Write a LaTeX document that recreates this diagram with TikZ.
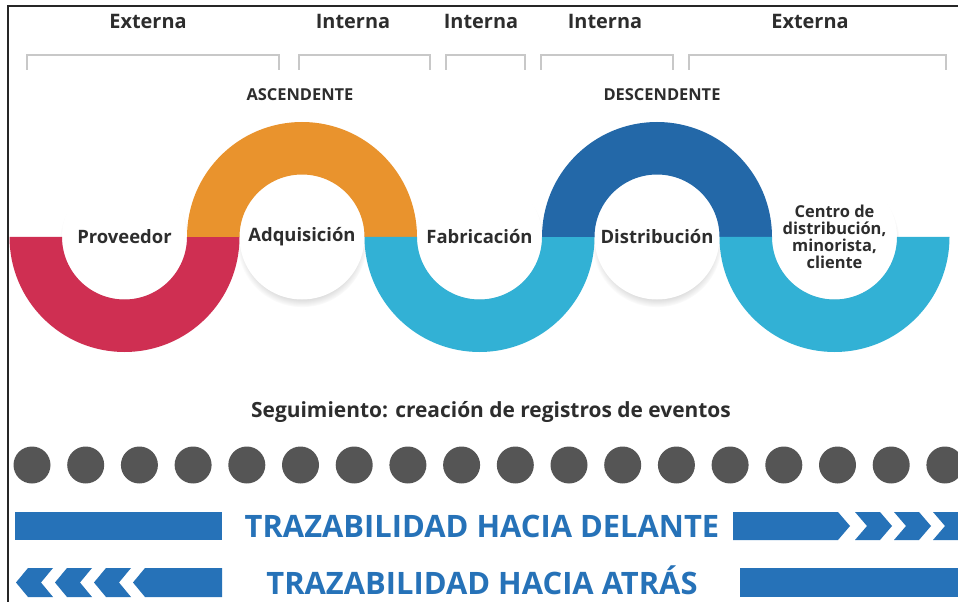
\documentclass[tikz,border=0pt]{standalone}
\usepackage{fontspec}
\setmainfont{Open Sans}
\usetikzlibrary{shadows,fadings}

\definecolor{ringred}{RGB}{207,47,82}
\definecolor{ringorange}{RGB}{233,147,45}
\definecolor{ringcyan}{RGB}{50,177,213}
\definecolor{ringblue}{RGB}{35,104,168}
\definecolor{traceblue}{RGB}{38,114,184}
\definecolor{dotgray}{RGB}{85,85,85}
\definecolor{bracketgray}{RGB}{200,200,200}
\definecolor{inkgray}{RGB}{45,45,45}

\tikzset{
    zone/.style={font=\fontsize{20}{22}\selectfont\bfseries, text=inkgray},
    bracket/.style={draw=bracketgray, line width=1.5},
    flow/.style={font=\fontsize{16.5}{18}\selectfont\bfseries, text=inkgray},
    hub/.style={circle, fill=white, minimum size=125bp, inner sep=0pt,
        font=\fontsize{18.5}{20}\selectfont\bfseries, text=inkgray,
        circular drop shadow={shadow xshift=0bp, shadow yshift=-5bp, shadow scale=1.04, fill=black!45, opacity=0.35}},
    event/.style={fill=dotgray},
    trace/.style={fill=traceblue},
    tracetext/.style={font=\fontsize{31}{33}\selectfont\bfseries, text=traceblue, inner sep=0pt}
}

\begin{document}
\begin{tikzpicture}[x=1bp, y=1bp]
    \clip (0, 0) rectangle (958, -602);
    \fill[white] (0, 0) rectangle (958, -602);

    % frame
    \draw[line width=1.8, black!85] (8, -602) -- (8, -6) -- (958, -6);

    % zones:
    \node[zone] (ext1) at (148, -21) {Externa};
    \node[zone] (int1) at (353, -21) {Interna};
    \node[zone] (int2) at (481, -21) {Interna};
    \node[zone] (int3) at (605, -21) {Interna};
    \node[zone] (ext2) at (810, -21) {Externa};

    \draw[bracket] (27, -70) -- (27, -55) -- (279, -55) -- (279, -70);
    \draw[bracket] (299, -70) -- (299, -55) -- (430, -55) -- (430, -70);
    \draw[bracket] (446, -70) -- (446, -55) -- (525, -55) -- (525, -70);
    \draw[bracket] (541, -70) -- (541, -55) -- (673, -55) -- (673, -70);
    \draw[bracket] (689, -70) -- (689, -55) -- (946, -55) -- (946, -70);

    \node[flow] (up) at (300, -95) {ASCENDENTE};
    \node[flow] (down) at (662, -95) {DESCENDENTE};

    % hubs: centres 124.5 + 177.5 * i, r = 62.5, R = 115
    \node[hub] (prov) at (124.5, -237) {Proveedor};
    \node[hub] (adq) at (302, -237) {Adquisición};
    \node[hub] (fab) at (479.5, -237) {Fabricación};
    \node[hub] (dist) at (657, -237) {Distribución};
    \node[hub, align=center, font=\fontsize{16.5}{17}\selectfont\bfseries] (centro) at (834.5, -237) {Centro de\\distribución,\\minorista,\\cliente};

    % Proveedor (lower half):
    % 124.5 - 115 = 9.5, 124.5 + 115 = 239.5
    \fill[ringred] (9.5, -237) arc[start angle=180, end angle=360, radius=115]
        -- (187, -237) arc[start angle=0, end angle=-180, radius=62.5] -- cycle;

    % Adquisición (upper half):
    % 302 - 115 = 187, 302 + 115 = 417
    \fill[ringorange] (187, -237) arc[start angle=180, end angle=0, radius=115]
        -- (364.5, -237) arc[start angle=0, end angle=180, radius=62.5] -- cycle;

    % Fabricación (lower half):
    % 479.5 - 115 = 364.5, 479.5 + 115 = 594.5
    \fill[ringcyan] (364.5, -237) arc[start angle=180, end angle=360, radius=115]
        -- (542, -237) arc[start angle=0, end angle=-180, radius=62.5] -- cycle;

    % Distribución (upper half):
    % 657 - 115 = 542, 657 + 115 = 772
    \fill[ringblue] (542, -237) arc[start angle=180, end angle=0, radius=115]
        -- (719.5, -237) arc[start angle=0, end angle=180, radius=62.5] -- cycle;

    % Centro (lower half):
    % 834.5 - 115 = 719.5, 834.5 + 115 = 949.5
    \fill[ringcyan] (719.5, -237) arc[start angle=180, end angle=360, radius=115]
        -- (897, -237) arc[start angle=0, end angle=-180, radius=62.5] -- cycle;

    % events: 32 + 53.7 * i
    \node[font=\fontsize{21}{23}\selectfont\bfseries, text=inkgray] (track) at (491, -412) {Seguimiento: creación de registros de eventos};
    \fill[event] (32, -465) circle[radius=18.5];
    \fill[event] (85.7, -465) circle[radius=18.5];
    \fill[event] (139.4, -465) circle[radius=18.5];
    \fill[event] (193.1, -465) circle[radius=18.5];
    \fill[event] (246.8, -465) circle[radius=18.5];
    \fill[event] (300.5, -465) circle[radius=18.5];
    \fill[event] (354.2, -465) circle[radius=18.5];
    \fill[event] (407.9, -465) circle[radius=18.5];
    \fill[event] (461.6, -465) circle[radius=18.5];
    \fill[event] (515.3, -465) circle[radius=18.5];
    \fill[event] (569, -465) circle[radius=18.5];
    \fill[event] (622.7, -465) circle[radius=18.5];
    \fill[event] (676.4, -465) circle[radius=18.5];
    \fill[event] (730.1, -465) circle[radius=18.5];
    \fill[event] (783.8, -465) circle[radius=18.5];
    \fill[event] (837.5, -465) circle[radius=18.5];
    \fill[event] (891.2, -465) circle[radius=18.5];
    \fill[event] (944.9, -465) circle[radius=18.5];

    % forward: y from -512 to -540, middle -526
    \fill[trace] (15, -512) rectangle (222, -540);
    \node[tracetext] (fwd) at (482, -526) {TRAZABILIDAD HACIA DELANTE};
    \fill[trace] (733, -512) -- (838, -512) -- (850, -526) -- (838, -540) -- (733, -540) -- cycle;
    % chevrons: 855 + 39 * i
    \fill[trace] (855, -512) -- (880, -512) -- (892, -526) -- (880, -540) -- (855, -540) -- (867, -526) -- cycle;
    \fill[trace] (894, -512) -- (919, -512) -- (931, -526) -- (919, -540) -- (894, -540) -- (906, -526) -- cycle;
    \fill[trace] (933, -512) -- (958, -512) -- (970, -526) -- (958, -540) -- (933, -540) -- (945, -526) -- cycle;

    % backward: y from -568 to -597, middle -582.5
    % chevron tips: 16 + 39 * i
    \fill[trace] (16, -582.5) -- (28, -568) -- (53, -568) -- (41, -582.5) -- (53, -597) -- (28, -597) -- cycle;
    \fill[trace] (55, -582.5) -- (67, -568) -- (92, -568) -- (80, -582.5) -- (92, -597) -- (67, -597) -- cycle;
    \fill[trace] (94, -582.5) -- (106, -568) -- (131, -568) -- (119, -582.5) -- (131, -597) -- (106, -597) -- cycle;
    \fill[trace] (133, -582.5) -- (145, -568) -- (222, -568) -- (222, -597) -- (145, -597) -- cycle;
    \node[tracetext, anchor=base] (bwd) at (482, -594) {TRAZABILIDAD HACIA ATRÁS};
    \fill[trace] (740, -568) rectangle (958, -597);
\end{tikzpicture}
\end{document}
